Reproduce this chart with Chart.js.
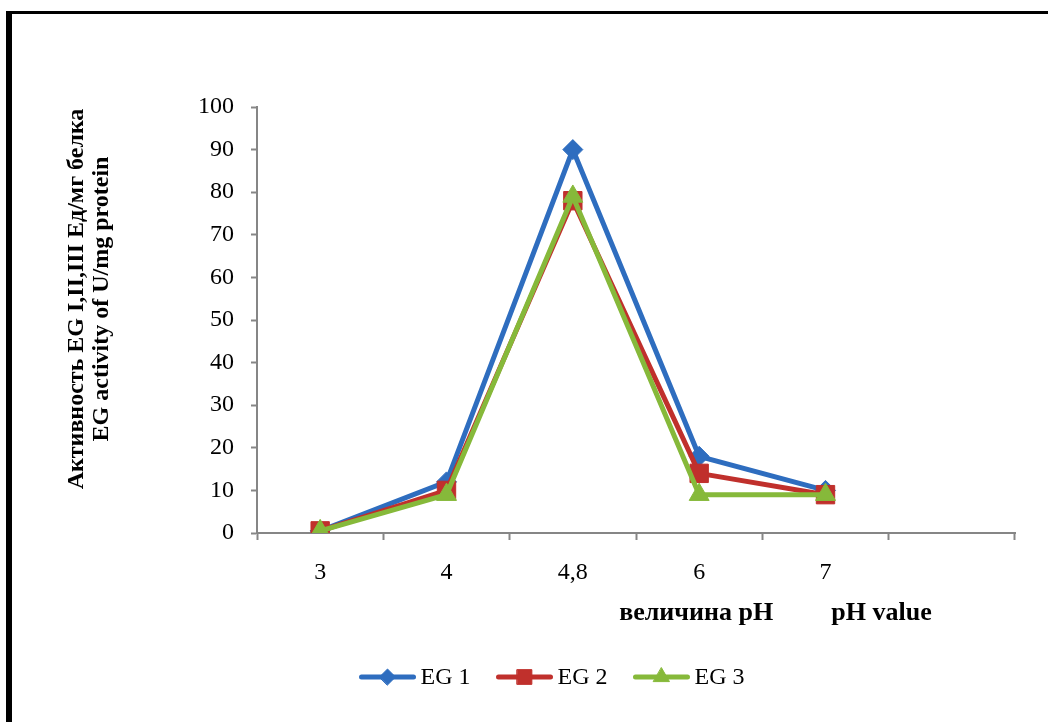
<!DOCTYPE html>
<html>
<head>
<meta charset="utf-8">
<script src="https://cdn.jsdelivr.net/npm/chart.js@4.4.1/dist/chart.umd.min.js"></script>
<style>
    html, body { margin: 0; padding: 0; background: #fff; }
    #wrap { position: relative; width: 1048px; height: 722px; overflow: hidden; }
    #myChart { position: absolute; left: 0; top: 0; }
    #frame {
        position: absolute; left: 6px; top: 11px; right: -10px; bottom: -10px;
        border-left: 6px solid #000; border-top: 3px solid #000;
        pointer-events: none;
    }
</style>
</head>
<body>
<div id="wrap">
    <canvas id="myChart" width="1048" height="722"></canvas>
    <div id="frame"></div>
</div>
<script>
// pH points (last slot is left empty on purpose)
var phLabels = ['3', '4', '4,8', '6', '7', ''];
var seriesNames = ['EG 1', 'EG 2', 'EG 3'];
var eg1Values = [0.5, 12, 90, 18, 10];
var eg2Values = [0.5, 10, 78, 14, 9];
var eg3Values = [0.5, 9, 79, 9, 9];
var yTitleLines = ['Активность EG I,II,III Ед/мг белка', 'EG activity of U/mg protein'];
var xNoteRu = 'величина pH';
var xNoteEn = 'pH value';

var serif = '"Liberation Serif", "Times New Roman", serif';
var axisGray = '#868686';

// legend in the old office style: short line with the marker in the middle
var lineLegend = {
    id: 'lineLegend',
    afterDraw: function (chart) {
        var ctx = chart.ctx;
        var sets = chart.data.datasets;
        var lineLen = 56, gap = 5, space = 26;
        ctx.save();
        ctx.font = '24px ' + serif;
        var widths = sets.map(function (ds) { return lineLen + gap + ctx.measureText(ds.label).width; });
        var total = widths.reduce(function (s, w) { return s + w; }, 0) + space * (sets.length - 1);
        var x = 552 - total / 2;
        var y = 677;
        sets.forEach(function (ds, i) {
            ctx.strokeStyle = ds.borderColor;
            ctx.lineWidth = 5;
            ctx.lineCap = 'round';
            ctx.beginPath();
            ctx.moveTo(x + 2, y);
            ctx.lineTo(x + lineLen - 2, y);
            ctx.stroke();
            ctx.fillStyle = ds.backgroundColor;
            ctx.lineWidth = 1;
            Chart.helpers.drawPoint(ctx, {
                pointStyle: ds.pointStyle,
                radius: ds.pointRadius * 0.8,
                borderWidth: 1
            }, x + lineLen / 2, y);
            ctx.fillStyle = '#000';
            ctx.textBaseline = 'middle';
            ctx.textAlign = 'left';
            ctx.fillText(ds.label, x + lineLen + gap, y + 1);
            x += widths[i] + space;
        });
        ctx.restore();
    }
};

// axis captions: rotated two-line title on the left, pH notes under the categories
var axisCaptions = {
    id: 'axisCaptions',
    afterDraw: function (chart) {
        var ctx = chart.ctx;
        var xs = chart.scales.x;
        ctx.save();
        ctx.fillStyle = '#000';
        ctx.textAlign = 'center';
        ctx.textBaseline = 'middle';

        ctx.font = 'bold 24px ' + serif;
        yTitleLines.forEach(function (line, i) {
            ctx.save();
            ctx.translate(77 + i * 25, 299);
            ctx.rotate(-Math.PI / 2);
            ctx.fillText(line, 0, 0);
            ctx.restore();
        });

        ctx.font = 'bold 26px ' + serif;
        ctx.fillText(xNoteRu, xs.getPixelForValue(3) - 3, 613);
        ctx.fillText(xNoteEn, xs.getPixelForValue(4) + 56, 613);
        ctx.restore();
    }
};

var chartData = {
    labels: phLabels,
    datasets: [{
        label: seriesNames[0],
        data: eg1Values,
        borderColor: '#2e6dbf',
        backgroundColor: '#2e6dbf',
        pointStyle: 'rectRot',
        pointRadius: 10,
        order: 2
    }, {
        label: seriesNames[1],
        data: eg2Values,
        borderColor: '#c0302c',
        backgroundColor: '#c0302c',
        pointStyle: 'rect',
        pointRadius: 13,
        order: 1
    }, {
        label: seriesNames[2],
        data: eg3Values,
        borderColor: '#86b93a',
        backgroundColor: '#86b93a',
        pointStyle: 'triangle',
        pointRadius: 11.5,
        order: 0
    }]
};

chartData.datasets.forEach(function (ds) {
    ds.borderWidth = 5;
    ds.pointBorderWidth = 1;
    ds.tension = 0;
});

var chartOptions = {
    responsive: false,
    animation: false,
    layout: {
        padding: { left: 0, right: 33, top: 107, bottom: 130 }
    },
    scales: {
        x: {
            type: 'category',
            offset: true,
            grid: {
                offset: true,
                drawOnChartArea: false,
                drawTicks: true,
                tickLength: 7,
                tickWidth: 2,
                color: axisGray
            },
            border: { color: axisGray, width: 2 },
            ticks: {
                color: '#000',
                padding: 18,
                font: { family: serif, size: 24 }
            },
            afterFit: function (scale) { scale.height = 59; }
        },
        y: {
            min: 0,
            max: 100,
            grid: {
                drawOnChartArea: false,
                drawTicks: true,
                tickLength: 6,
                tickWidth: 2,
                color: axisGray
            },
            border: { color: axisGray, width: 2 },
            ticks: {
                stepSize: 10,
                color: '#000',
                padding: 17,
                font: { family: serif, size: 24 }
            },
            afterFit: function (scale) { scale.width = 257; }
        }
    },
    plugins: {
        legend: { display: false },
        tooltip: { enabled: false }
    }
};

var ctx = document.getElementById('myChart').getContext('2d');
var myChart = new Chart(ctx, {
    type: 'line',
    data: chartData,
    options: chartOptions,
    plugins: [lineLegend, axisCaptions]
});
</script>
</body>
</html>
